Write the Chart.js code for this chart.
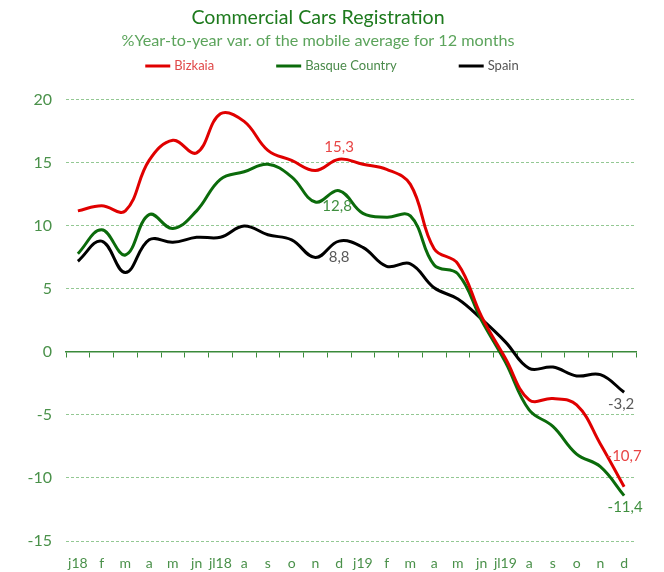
<!DOCTYPE html>
<html>
<head>
<meta charset="utf-8">
<script src="https://cdn.jsdelivr.net/npm/chart.js@4.4.1/dist/chart.umd.min.js"></script>
<style>
    body { margin: 0; background: #fff; }
    #wrap { width: 664px; height: 572px; }
</style>
</head>
<body>
<div id="wrap"><canvas id="chart" width="664" height="572"></canvas></div>
<script>
// Commercial cars registration - % year-to-year var. of 12-month mobile average

const months = ['j18', 'f', 'm', 'a', 'm', 'jn', 'jl18', 'a', 's', 'o', 'n', 'd',
                'j19', 'f', 'm', 'a', 'm', 'jn', 'jl19', 'a', 's', 'o', 'n', 'd'];

const bizkaia = [11.2, 11.6, 11.2, 15.2, 16.8, 15.8, 18.9, 18.3, 16.0, 15.2, 14.4, 15.3,
                 14.9, 14.5, 13.3, 8.2, 7.0, 2.8, -0.5, -3.8, -3.7, -4.2, -7.3, -10.7];

const basque = [7.8, 9.7, 7.7, 10.9, 9.8, 11.2, 13.7, 14.3, 14.9, 13.9, 11.9, 12.8,
                11.0, 10.7, 10.8, 6.9, 6.2, 2.5, -0.8, -4.6, -5.9, -8.1, -9.1, -11.4];

const spain = [7.2, 8.8, 6.3, 8.9, 8.7, 9.1, 9.1, 10.0, 9.3, 8.9, 7.5, 8.8,
               8.3, 6.8, 7.0, 5.1, 4.2, 2.6, 0.8, -1.3, -1.2, -1.9, -1.8, -3.2];

const yTicks = [-15, -10, -5, 0, 5, 10, 15, 20];

const GREEN_TXT = '#4a914a';

// value labels: dataset index, point index, offset from the point, colour
const valueLabels = [
    { ds: 0, i: 11, dx: 0, dy: -12, color: '#e84545' },
    { ds: 1, i: 11, dx: -2, dy: 15, color: '#3f8f3f' },
    { ds: 2, i: 11, dx: 0, dy: 16, color: '#595959' },
    { ds: 0, i: 23, dx: 0, dy: -31, color: '#e84545' },
    { ds: 1, i: 23, dx: 1, dy: 12, color: '#3f8f3f' },
    { ds: 2, i: 23, dx: -3, dy: 12, color: '#595959' }
];

const valueLabelPlugin = {
    id: 'valueLabels',
    afterDatasetsDraw(chart) {
        const ctx = chart.ctx;
        ctx.save();
        ctx.font = '15px Lato';
        ctx.textAlign = 'center';
        ctx.textBaseline = 'middle';
        valueLabels.forEach(l => {
            const pt = chart.getDatasetMeta(l.ds).data[l.i];
            const v = chart.data.datasets[l.ds].data[l.i];
            ctx.fillStyle = l.color;
            ctx.fillText(v.toFixed(1).replace('.', ','), pt.x + l.dx, pt.y + l.dy);
        });
        ctx.restore();
    }
};

// legend row with line samples, spread out like the original
const lineLegendPlugin = {
    id: 'lineLegend',
    afterDraw(chart) {
        const ctx = chart.ctx;
        const sets = chart.data.datasets;
        const lineW = 25, gapTxt = 4, gapItem = 62, y = 66;
        ctx.save();
        ctx.font = '13px Lato';
        ctx.textBaseline = 'middle';
        const widths = sets.map(ds => lineW + gapTxt + ctx.measureText(ds.label).width);
        const total = widths.reduce((a, b) => a + b, 0) + gapItem * (sets.length - 1);
        let x = (chart.width - total) / 2;
        sets.forEach((ds, i) => {
            ctx.strokeStyle = ds.borderColor;
            ctx.lineWidth = 3;
            ctx.beginPath();
            ctx.moveTo(x, y);
            ctx.lineTo(x + lineW, y);
            ctx.stroke();
            ctx.fillStyle = ds.legendColor;
            ctx.fillText(ds.label, x + lineW + gapTxt, y);
            x += widths[i] + gapItem;
        });
        ctx.restore();
    }
};

Chart.defaults.font.family = 'Lato';

const chart = new Chart(document.getElementById('chart'), {
    type: 'line',
    data: {
        labels: months,
        datasets: [
            { label: 'Bizkaia', data: bizkaia, borderColor: '#e00000', legendColor: '#e04848' },
            { label: 'Basque Country', data: basque, borderColor: '#0b6b0b', legendColor: '#4a8a4a' },
            { label: 'Spain', data: spain, borderColor: '#000000', legendColor: '#555555' }
        ].map(ds => Object.assign(ds, {
            borderWidth: 3,
            pointRadius: 0,
            tension: 0.4,
            fill: false
        }))
    },
    options: {
        responsive: false,
        animation: false,
        layout: { padding: { left: 0, right: 28, bottom: 0 } },
        plugins: {
            legend: { display: false },
            tooltip: { enabled: false },
            title: {
                display: true,
                text: 'Commercial Cars Registration',
                color: '#1d7a1d',
                font: { size: 19.6, weight: 'normal' },
                padding: { top: 6, bottom: 2 }
            },
            subtitle: {
                display: true,
                text: '%Year-to-year var. of the mobile average for 12 months',
                color: '#5ca45c',
                font: { size: 16.2 },
                padding: { top: 0, bottom: 49 }
            }
        },
        scales: {
            x: {
                offset: true,
                afterFit: scale => { scale.height = 31; },
                grid: { display: false, drawTicks: false },
                border: { display: false },
                ticks: { color: GREEN_TXT, font: { size: 14 }, padding: 14, autoSkip: false, maxRotation: 0 }
            },
            x2: {
                axis: 'x',
                type: 'category',
                position: { y: 0 },
                offset: true,
                grid: { offset: true, drawOnChartArea: false, drawTicks: true, tickLength: 5, color: '#3a8a3a' },
                border: { display: true, color: '#3a8a3a', width: 1.5 },
                ticks: { display: false }
            },
            y: {
                min: -15,
                max: 20,
                afterBuildTicks: scale => { scale.ticks = yTicks.map(v => ({ value: v })); },
                afterFit: scale => { scale.width = 66; },
                grid: {
                    drawTicks: false,
                    color: c => c.tick && c.tick.value === 0 ? 'rgba(0,0,0,0)' : '#93c893'
                },
                border: { display: false, dash: [3, 2] },
                ticks: { color: GREEN_TXT, font: { size: 16 }, padding: 14 }
            }
        }
    },
    plugins: [valueLabelPlugin, lineLegendPlugin]
});
</script>
</body>
</html>
